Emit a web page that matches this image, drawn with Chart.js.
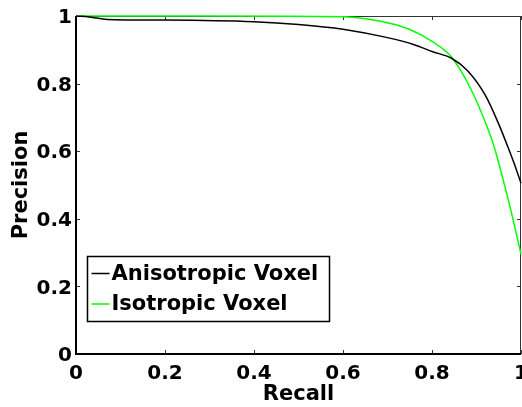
<!DOCTYPE html>
<html>
<head>
<meta charset="utf-8">
<script src="https://cdn.jsdelivr.net/npm/chart.js@4.4.1/dist/chart.umd.min.js"></script>
<style>
  body { margin: 0; background: #fff; }
  #wrap { width: 522px; height: 407px; }
</style>
</head>
<body>
<div id="wrap"><canvas id="myChart" width="522" height="407"></canvas></div>
<script>
// values
const anisoRecall = [0, 0.03, 0.07, 0.2, 0.4, 0.5, 0.6, 0.7, 0.76, 0.8, 0.844, 0.88, 0.92, 0.95, 0.973, 0.99, 1.0];
const anisoPrecision = [1.0, 0.997, 0.99, 0.988, 0.983, 0.975, 0.961, 0.936, 0.915, 0.895, 0.875, 0.838, 0.765, 0.68, 0.604, 0.544, 0.505];

const isoRecall = [0, 0.3, 0.6, 0.69, 0.75, 0.8, 0.844, 0.885, 0.923, 0.942, 0.96, 0.98, 1.0];
const isoPrecision = [1.0, 1.0, 0.998, 0.983, 0.96, 0.925, 0.878, 0.79, 0.675, 0.603, 0.515, 0.41, 0.295];

const seriesNames = ['Anisotropic Voxel', 'Isotropic Voxel'];
const tickLabels = ['0', '0.2', '0.4', '0.6', '0.8', '1'];

const FONT = "'DejaVu Sans', 'Liberation Sans', Arial, sans-serif";
Chart.defaults.font.family = FONT;
Chart.defaults.font.size = 20;
Chart.defaults.font.weight = 'bold';
Chart.defaults.color = '#000';

function pts(xs, ys) {
  return xs.map((x, i) => ({x: x, y: ys[i]}));
}

// box round the plot + ticks pointing inward (matlab style), under the curves
const frame = {
  id: 'frame',
  beforeDatasetsDraw(chart) {
    const {ctx, chartArea: {left, right, top, bottom}} = chart;
    const xs = chart.scales.x, ys = chart.scales.y;
    ctx.save();
    ctx.strokeStyle = '#333';
    ctx.lineWidth = 1;
    ctx.beginPath();
    xs.ticks.forEach(t => {
      const px = Math.round(xs.getPixelForValue(t.value)) + 0.5;
      ctx.moveTo(px, bottom); ctx.lineTo(px, bottom - 4);
      ctx.moveTo(px, top); ctx.lineTo(px, top + 4);
    });
    ys.ticks.forEach(t => {
      const py = Math.round(ys.getPixelForValue(t.value)) + 0.5;
      ctx.moveTo(left, py); ctx.lineTo(left + 4, py);
      ctx.moveTo(right, py); ctx.lineTo(right - 4, py);
    });
    // top and right edges, thin
    ctx.moveTo(left, top + 0.5); ctx.lineTo(right, top + 0.5);
    ctx.moveTo(right - 0.5, top); ctx.lineTo(right - 0.5, bottom);
    ctx.stroke();
    // left and bottom axes, a bit heavier
    ctx.strokeStyle = '#000';
    ctx.lineWidth = 2;
    ctx.beginPath();
    ctx.moveTo(left, top); ctx.lineTo(left, bottom); ctx.lineTo(right, bottom);
    ctx.stroke();
    ctx.restore();
  }
};

// legend box in lower left of the plot
const boxLegend = {
  id: 'boxLegend',
  afterDatasetsDraw(chart) {
    const {ctx, chartArea: {left, bottom}} = chart;
    const x0 = left + 11.5, y0 = bottom - 97.5, w = 242, h = 65;
    ctx.save();
    ctx.fillStyle = '#fff';
    ctx.fillRect(x0, y0, w, h);
    ctx.strokeStyle = '#000';
    ctx.lineWidth = 1.5;
    ctx.strokeRect(x0, y0, w, h);
    ctx.font = 'bold 21px ' + FONT;
    ctx.textBaseline = 'middle';
    chart.data.datasets.forEach((ds, i) => {
      const y = y0 + 17 + i * 30.5;
      ctx.strokeStyle = ds.borderColor;
      ctx.lineWidth = 1.5;
      ctx.beginPath();
      ctx.moveTo(x0 + 4, y);
      ctx.lineTo(x0 + 22, y);
      ctx.stroke();
      ctx.fillStyle = '#000';
      ctx.fillText(ds.label, x0 + 24, y + 1);
    });
    ctx.restore();
  }
};

const data = {
  datasets: [{
    label: seriesNames[0],
    data: pts(anisoRecall, anisoPrecision),
    borderColor: '#000000',
    borderWidth: 1.5,
    pointRadius: 0,
    cubicInterpolationMode: 'monotone',
    clip: 4,
    fill: false
  }, {
    label: seriesNames[1],
    data: pts(isoRecall, isoPrecision),
    borderColor: '#00ff00',
    borderWidth: 1.5,
    pointRadius: 0,
    cubicInterpolationMode: 'monotone',
    clip: 4,
    fill: false
  }]
};

const config = {
  type: 'line',
  data: data,
  options: {
    responsive: false,
    animation: false,
    layout: { padding: { top: 16, right: 1, left: 0, bottom: 0 } },
    plugins: { legend: { display: false }, tooltip: { enabled: false } },
    scales: {
      x: {
        type: 'linear',
        min: 0, max: 1,
        grid: { display: false, drawTicks: false },
        border: { display: false },
        ticks: { stepSize: 0.2, padding: 8, maxRotation: 0, autoSkip: false,
          callback: (v, i) => tickLabels[i] },
        title: { display: true, text: 'Recall', font: { size: 21 }, padding: { top: 0, bottom: 0 } },
        afterFit(s) { s.height = 53; s.paddingLeft = 0; s.paddingRight = 0; }
      },
      y: {
        min: 0, max: 1,
        grid: { display: false, drawTicks: false },
        border: { display: false },
        ticks: { stepSize: 0.2, padding: 4, labelOffset: 2, callback: (v, i) => tickLabels[i] },
        title: { display: true, text: 'Precision', font: { size: 21 }, padding: { top: 9, bottom: 0 } },
        afterFit(s) { s.width = 76; s.paddingTop = 0; s.paddingBottom = 0; }
      }
    }
  },
  plugins: [frame, boxLegend]
};

const myChart = new Chart(document.getElementById('myChart'), config);
</script>
</body>
</html>
